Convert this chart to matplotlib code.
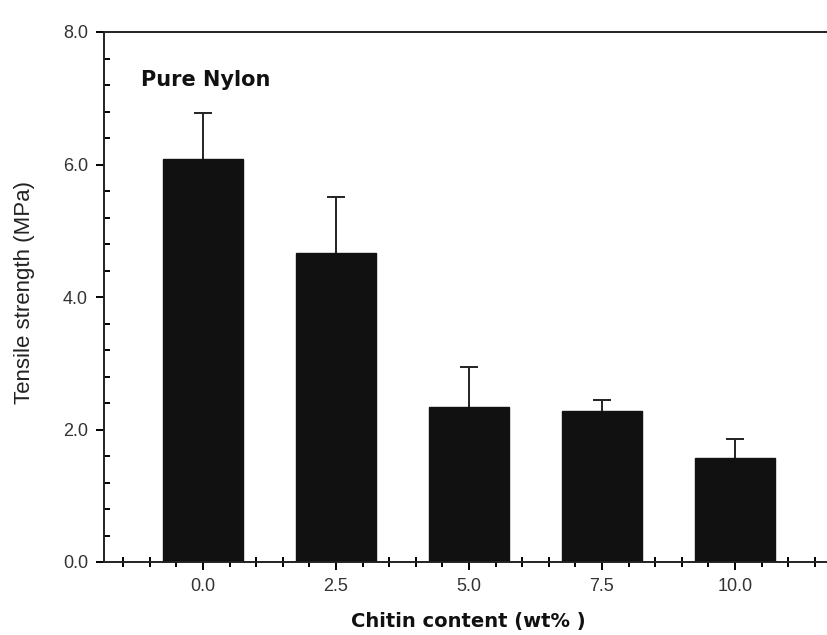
import matplotlib.pyplot as plt
from matplotlib.ticker import MultipleLocator

# Data
chitin = [0.0, 2.5, 5.0, 7.5, 10.0]
strength = [6.08, 4.66, 2.34, 2.28, 1.57]
strength_err = [0.69, 0.85, 0.60, 0.16, 0.29]
tick_labels = ["0.0", "2.5", "5.0", "7.5", "10.0"]

plt.rcParams['font.family'] = ['Liberation Sans', 'DejaVu Sans']

fig = plt.figure(figsize=(8.28, 6.35), dpi=100)
# axes runs off the right edge like the scanned original
ax = fig.add_axes([104 / 828, 73 / 635, 764 / 828, 530 / 635])

ax.bar(chitin, strength, width=1.5, color='#111111', edgecolor='#111111', zorder=2)

# only the upper half of the error bar is shown
eb = ax.errorbar(chitin, strength, yerr=[[0] * len(strength_err), strength_err],
                 fmt='none', ecolor='#222222', elinewidth=1.4, capthick=1.4,
                 capsize=6.5, zorder=1)
for cap in eb[1]:
    if list(cap.get_ydata()) == strength:
        cap.set_visible(False)

ax.set_xlim(-1.86, 12.5)
ax.set_ylim(0, 8)

ax.set_xticks(chitin)
ax.set_xticklabels(tick_labels)
ax.xaxis.set_minor_locator(MultipleLocator(0.5))
ax.set_yticks([0, 2, 4, 6, 8])
ax.set_yticklabels(["0.0", "2.0", "4.0", "6.0", "8.0"])
ax.yaxis.set_minor_locator(MultipleLocator(0.4))

ax.tick_params(axis='both', which='major', direction='out', length=5.5, width=1.4,
               labelsize=13, labelcolor='#333333', pad=6)
ax.tick_params(axis='x', which='minor', direction='inout', length=7, width=1.4)
ax.tick_params(axis='y', which='minor', direction='in', length=4.5, width=1.4)

for side in ['left', 'bottom', 'top']:
    ax.spines[side].set_linewidth(1.4)
    ax.spines[side].set_color('#222222')
ax.spines['right'].set_visible(False)

ax.set_ylabel("Tensile strength (MPa)", fontsize=16, color='#222222', va='center')
ax.yaxis.set_label_coords((25 - 104) / 764, (562 - 293) / 530)
ax.set_xlabel("Chitin content (wt% )", fontsize=14, fontweight='bold',
              family='DejaVu Sans', color='#111111', va='center')
ax.xaxis.set_label_coords((468 - 104) / 764, (562 - 622) / 530)

ax.text(0.06, 7.27, "Pure Nylon", fontsize=15, fontweight='bold',
        family='DejaVu Sans', color='#111111', ha='center', va='center')

fig.savefig("out.png", dpi=100)
